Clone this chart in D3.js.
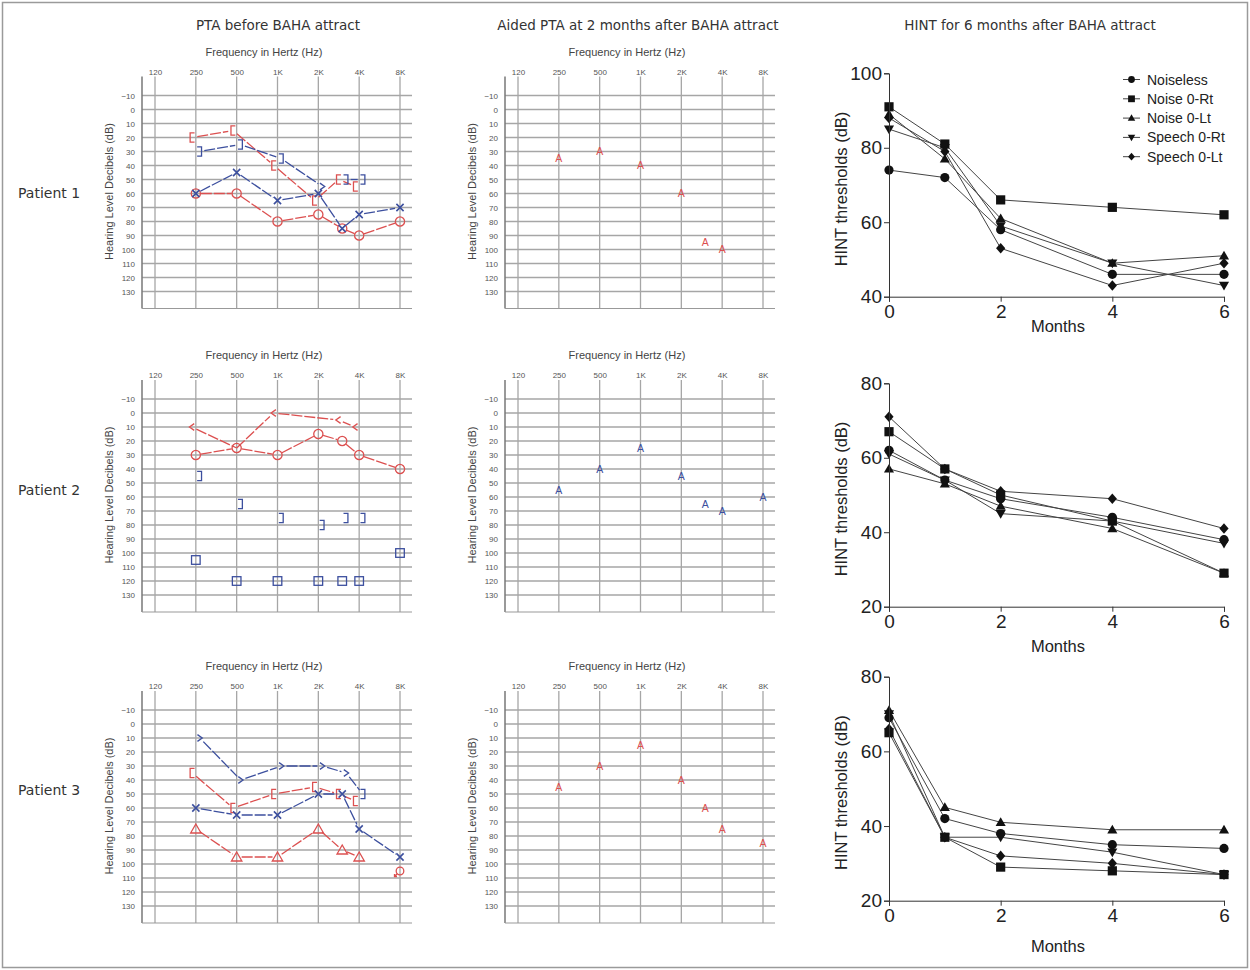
<!DOCTYPE html>
<html><head><meta charset="utf-8">
<script src="https://cdn.jsdelivr.net/npm/d3@7"></script>
<style>body{margin:0;background:#fff}</style>
</head><body>
<script>
// ================= DATA =================
const panelTitles = ["PTA before BAHA attract", "Aided PTA at 2 months after BAHA attract", "HINT for 6 months after BAHA attract"];
const patientLabels = ["Patient 1", "Patient 2", "Patient 3"];
const freqTickLabels = ["120", "250", "500", "1K", "2K", "4K", "8K"];
const freqTickValues = [125, 250, 500, 1000, 2000, 4000, 8000];
const testFreqs = [250, 500, 1000, 2000, 3000, 4000, 8000];
const dbTicks = [-10, 0, 10, 20, 30, 40, 50, 60, 70, 80, 90, 100, 110, 120, 130];

// Patient 1 – PTA before
const p1RightAC = [60, 60, 80, 75, 85, 90, 80];           // red O
const p1LeftAC = [60, 45, 65, 60, 85, 75, 70];            // blue X
const p1RightBCMasked = [20, 15, 40, 65, 50, 55, null];   // red [
const p1LeftBC = [30, 25, 35, 55, 50, 50, null];          // blue ] / >
const p1LeftBCSymbols = ["]", "]", "]", ">", "]", "]", null];
// Patient 1 – aided
const p1Aided = [35, 30, 40, 60, 95, 100, null];

// Patient 2 – PTA before
const p2RightAC = [30, 25, 30, 15, 20, 30, 40];           // red O
const p2RightBC = [10, 25, 0, null, 5, 10, null];         // red <
const p2RightBCSymbols = ["<", "", "<", null, "<", "<", null];
const p2LeftBCMasked = [45, 65, 75, 80, 75, 75, null];    // blue ]
const p2LeftNoResponse = [105, 120, 120, 120, 120, 120, 100]; // blue squares
// Patient 2 – aided
const p2Aided = [55, 40, 25, 45, 65, 70, 60];

// Patient 3 – PTA before
const p3LeftBC = [10, 40, 30, 30, 35, 50, null];          // blue > / ]
const p3LeftBCSymbols = [">", ">", ">", ">", ">", "]", null];
const p3RightBCMasked = [35, 60, 50, 45, 50, 55, null];   // red [
const p3LeftAC = [60, 65, 65, 50, 50, 75, 95];            // blue X
const p3RightACMasked = [75, 95, 95, 75, 90, 95, 105];    // red triangle
const p3RightACSymbols = ["tri", "tri", "tri", "tri", "tri", "tri", "nr"];
// Patient 3 – aided
const p3Aided = [45, 30, 15, 40, 60, 75, 85];

// HINT
const months = [0, 1, 2, 4, 6];
const hintSeriesNames = ["Noiseless", "Noise 0-Rt", "Noise 0-Lt", "Speech 0-Rt", "Speech 0-Lt"];
const hintShapes = ["circle", "square", "triangle", "triangleDown", "diamond"];
const p1Noiseless = [74, 72, 58, 46, 46];
const p1NoiseRt = [91, 81, 66, 64, 62];
const p1NoiseLt = [89, 77, 61, 49, 51];
const p1SpeechRt = [85, 80, 59, 49, 43];
const p1SpeechLt = [88, 79, 53, 43, 49];
const p2Noiseless = [62, 54, 49, 44, 38];
const p2NoiseRt = [67, 57, 50, 43, 29];
const p2NoiseLt = [57, 53, 47, 41, 29];
const p2SpeechRt = [61, 54, 45, 43, 37];
const p2SpeechLt = [71, 57, 51, 49, 41];
const p3Noiseless = [69, 42, 38, 35, 34];
const p3NoiseRt = [65, 37, 29, 28, 27];
const p3NoiseLt = [71, 45, 41, 39, 39];
const p3SpeechRt = [70, 37, 37, 33, 27];
const p3SpeechLt = [66, 37, 32, 30, 27];
const hintYDomains = [[40, 100], [20, 80], [20, 80]];
const hintYTicks = [[40, 60, 80, 100], [20, 40, 60, 80], [20, 40, 60, 80]];
const hintXTicks = [0, 2, 4, 6];

// ================= DRAW =================
const RED = "#dc5050", BLUE = "#3c4f9e";
const W = 1250, H = 970;
const svg = d3.select("body").append("svg").attr("width", W).attr("height", H);
svg.append("rect").attr("x", 2.5).attr("y", 2.5).attr("width", W - 5).attr("height", H - 5)
  .attr("fill", "#fff").attr("stroke", "#9a9a9a").attr("stroke-width", 1.5);

const titleFont = "'DejaVu Sans', sans-serif";
const armFont = "'Liberation Sans', Arial, sans-serif";

// column titles
const titleX = [278, 638, 1030];
panelTitles.forEach((t, i) => {
  svg.append("text").attr("x", titleX[i]).attr("y", 30).attr("text-anchor", "middle")
    .attr("font-family", titleFont).attr("font-size", 13.5).attr("fill", "#333").text(t);
});
const patientY = [193, 490, 790];
patientLabels.forEach((t, i) => {
  svg.append("text").attr("x", 18).attr("y", patientY[i] + 5)
    .attr("font-family", titleFont).attr("font-size", 14).attr("fill", "#333").text(t);
});

const symOffset = { "[": -3.5, "]": 3.5, "<": -4, ">": 4 };
function drawSymbol(g, sym, x, y, color) {
  if (!sym) return;
  const s = g.append("g").attr("transform", `translate(${x},${y})`);
  const st = (p) => p.attr("fill", "none").attr("stroke", color).attr("stroke-width", 1.3);
  switch (sym) {
    case "O": st(s.append("circle").attr("r", 4.6)); break;
    case "X": st(s.append("path").attr("d", "M-3.6,-3.6L3.6,3.6M3.6,-3.6L-3.6,3.6")).attr("stroke-width", 1.6); break;
    case "[": st(s.append("path").attr("d", "M2.2,-4.6H-2.2V4.6H2.2")); break;
    case "]": st(s.append("path").attr("d", "M-2.2,-4.6H2.2V4.6H-2.2")); break;
    case "<": st(s.append("path").attr("d", "M2.4,-3.4L-2.4,0L2.4,3.4")); break;
    case ">": st(s.append("path").attr("d", "M-2.4,-3.4L2.4,0L-2.4,3.4")); break;
    case "sq": st(s.append("rect").attr("x", -4.3).attr("y", -4.3).attr("width", 8.6).attr("height", 8.6)); break;
    case "tri": st(s.append("path").attr("d", "M0,-5L5.2,4L-5.2,4Z")); break;
    case "nr": st(s.append("circle").attr("r", 3.8)); st(s.append("path").attr("d", "M-2.8,2.8L-5.5,5.5M-5.5,3L-5.5,5.5L-3,5.5")); break;
    case "A": s.append("text").attr("text-anchor", "middle").attr("y", 3.6)
      .attr("font-family", armFont).attr("font-size", 10.5).attr("fill", color).text("A"); break;
  }
}

function drawAudiogram(x0, y0, series) {
  const g = svg.append("g");
  const fx = d3.scaleLog().base(2).domain([125, 8000]).range([x0 + 13, x0 + 258]);
  const dy = d3.scaleLinear().domain([-10, 130]).range([y0, y0 + 196]);
  const top = y0 - 19, bottom = y0 + 213, right = x0 + 270;
  // grid
  g.selectAll(".hg").data(dbTicks).join("line")
    .attr("x1", x0).attr("x2", right).attr("y1", d => dy(d)).attr("y2", d => dy(d))
    .attr("stroke", "#a6a6a6").attr("stroke-width", 1.3);
  g.selectAll(".vg").data(freqTickValues).join("line")
    .attr("x1", d => fx(d)).attr("x2", d => fx(d)).attr("y1", top).attr("y2", bottom)
    .attr("stroke", "#a6a6a6").attr("stroke-width", 1.3);
  g.append("line").attr("x1", x0).attr("x2", x0).attr("y1", top).attr("y2", bottom).attr("stroke", "#777").attr("stroke-width", 1.5);
  g.append("line").attr("x1", x0).attr("x2", right).attr("y1", bottom).attr("y2", bottom).attr("stroke", "#999").attr("stroke-width", 1.2);
  // axes labels
  const ya = g.append("g").attr("transform", `translate(${x0 - 7},0)`)
    .call(d3.axisLeft(dy).tickValues(dbTicks).tickSize(0).tickPadding(0));
  ya.select(".domain").remove();
  ya.selectAll("text").attr("font-family", armFont).attr("font-size", 8).attr("fill", "#555");
  const xa = g.append("g").attr("transform", `translate(0,${y0 - 21})`)
    .call(d3.axisTop(fx).tickValues(freqTickValues).tickFormat((d, i) => freqTickLabels[i]).tickSize(0).tickPadding(0));
  xa.select(".domain").remove();
  xa.selectAll("text").attr("font-family", armFont).attr("font-size", 8).attr("fill", "#555");
  g.append("text").attr("x", x0 + 122).attr("y", y0 - 40).attr("text-anchor", "middle")
    .attr("font-family", armFont).attr("font-size", 11).attr("fill", "#444").text("Frequency in Hertz (Hz)");
  g.append("text").attr("transform", `translate(${x0 - 29},${y0 + 96}) rotate(-90)`).attr("text-anchor", "middle")
    .attr("font-family", armFont).attr("font-size", 11).attr("fill", "#444").text("Hearing Level Decibels (dB)");
  // series
  series.forEach(s => {
    const pts = [];
    s.values.forEach((v, i) => {
      if (v == null) return;
      const sym = Array.isArray(s.symbol) ? s.symbol[i] : s.symbol;
      pts.push({ i, sym, x: fx(testFreqs[i]) + (symOffset[sym] || 0), y: dy(v) });
    });
    if (s.connect) {
      for (let k = 0; k < pts.length - 1; k++) {
        const a = pts[k], b = pts[k + 1];
        if ((s.breaks || []).includes(a.i)) continue;
        const dx = b.x - a.x, dyv = b.y - a.y, L = Math.hypot(dx, dyv);
        const ga = a.sym ? 5 : 0, gb = b.sym ? 5 : 0;
        if (L <= ga + gb) continue;
        g.append("line")
          .attr("x1", a.x + dx * ga / L).attr("y1", a.y + dyv * ga / L)
          .attr("x2", b.x - dx * gb / L).attr("y2", b.y - dyv * gb / L)
          .attr("stroke", s.color).attr("stroke-width", 1.3).attr("stroke-dasharray", "11,2");
      }
    }
    pts.forEach(p => drawSymbol(g, p.sym, p.x, p.y, s.color));
  });
}

const audRowY = [95.5, 399, 710];
const leftX = 142, midX = 505;
drawAudiogram(leftX, audRowY[0], [
  { values: p1RightBCMasked, symbol: "[", color: RED, connect: true },
  { values: p1LeftBC, symbol: p1LeftBCSymbols, color: BLUE, connect: true, breaks: [3] },
  { values: p1RightAC, symbol: "O", color: RED, connect: true },
  { values: p1LeftAC, symbol: "X", color: BLUE, connect: true },
]);
drawAudiogram(midX, audRowY[0], [{ values: p1Aided, symbol: "A", color: RED, connect: false }]);
drawAudiogram(leftX, audRowY[1], [
  { values: p2RightBC, symbol: p2RightBCSymbols, color: RED, connect: true },
  { values: p2RightAC, symbol: "O", color: RED, connect: true },
  { values: p2LeftBCMasked, symbol: "]", color: BLUE, connect: false },
  { values: p2LeftNoResponse, symbol: "sq", color: BLUE, connect: false },
]);
drawAudiogram(midX, audRowY[1], [{ values: p2Aided, symbol: "A", color: BLUE, connect: false }]);
drawAudiogram(leftX, audRowY[2], [
  { values: p3LeftBC, symbol: p3LeftBCSymbols, color: BLUE, connect: true },
  { values: p3RightBCMasked, symbol: "[", color: RED, connect: true },
  { values: p3LeftAC, symbol: "X", color: BLUE, connect: true },
  { values: p3RightACMasked, symbol: p3RightACSymbols, color: RED, connect: true, breaks: [5] },
]);
drawAudiogram(midX, audRowY[2], [{ values: p3Aided, symbol: "A", color: RED, connect: false }]);

// ---------- HINT ----------
function markerPath(shape, r) {
  switch (shape) {
    case "circle": return d3.symbol(d3.symbolCircle, Math.PI * r * r)();
    case "square": return `M${-r},${-r}H${r}V${r}H${-r}Z`;
    case "triangle": return `M0,${-r * 1.1}L${r * 1.1},${r * 0.8}L${-r * 1.1},${r * 0.8}Z`;
    case "triangleDown": return `M0,${r * 1.1}L${r * 1.1},${-r * 0.8}L${-r * 1.1},${-r * 0.8}Z`;
    case "diamond": return `M0,${-r * 1.15}L${r},0L0,${r * 1.15}L${-r},0Z`;
  }
}
const hintRowRanges = [[296.7, 73.3], [606.7, 383.3], [900.7, 676.7]];
const hintData = [
  [p1Noiseless, p1NoiseRt, p1NoiseLt, p1SpeechRt, p1SpeechLt],
  [p2Noiseless, p2NoiseRt, p2NoiseLt, p2SpeechRt, p2SpeechLt],
  [p3Noiseless, p3NoiseRt, p3NoiseLt, p3SpeechRt, p3SpeechLt],
];
const monthsLabelY = [332, 652, 952];
hintData.forEach((rows, r) => {
  const g = svg.append("g");
  const x = d3.scaleLinear().domain([0, 6]).range([889, 1224]);
  const y = d3.scaleLinear().domain(hintYDomains[r]).range(hintRowRanges[r]);
  const line = d3.line().x((d, i) => x(months[i])).y(d => y(d));
  rows.forEach(vals => {
    g.append("path").attr("d", line(vals)).attr("fill", "none").attr("stroke", "#444").attr("stroke-width", 1);
  });
  rows.forEach((vals, s) => {
    vals.forEach((v, i) => {
      g.append("path").attr("d", markerPath(hintShapes[s], 4.6))
        .attr("transform", `translate(${x(months[i])},${y(v)})`).attr("fill", "#111");
    });
  });
  const ya = g.append("g").attr("transform", "translate(889,0)")
    .call(d3.axisLeft(y).tickValues(hintYTicks[r]).tickFormat(d3.format("d")).tickSize(5).tickPadding(2));
  const xa = g.append("g").attr("transform", `translate(0,${hintRowRanges[r][0]})`)
    .call(d3.axisBottom(x).tickValues(hintXTicks).tickFormat(d3.format("d")).tickSize(5).tickPadding(3));
  [ya, xa].forEach(a => {
    a.selectAll("path,line").attr("stroke", "#333").attr("stroke-width", 1);
    a.selectAll("text").attr("font-family", armFont).attr("font-size", 19).attr("fill", "#222");
  });
  const mid = (hintRowRanges[r][0] + hintRowRanges[r][1]) / 2;
  g.append("text").attr("transform", `translate(847,${mid + 4}) rotate(-90)`).attr("text-anchor", "middle")
    .attr("font-family", armFont).attr("font-size", 16.5).attr("fill", "#222").text("HINT thresholds (dB)");
  g.append("text").attr("x", 1058).attr("y", monthsLabelY[r]).attr("text-anchor", "middle")
    .attr("font-family", armFont).attr("font-size", 16.5).attr("fill", "#222").text("Months");
  if (r === 0) {
    const lg = g.append("g");
    hintSeriesNames.forEach((n, s) => {
      const ly = 79.5 + s * 19.3;
      lg.append("line").attr("x1", 1123).attr("x2", 1140).attr("y1", ly).attr("y2", ly).attr("stroke", "#444");
      lg.append("path").attr("d", markerPath(hintShapes[s], 3.4)).attr("transform", `translate(1131.5,${ly})`).attr("fill", "#111");
      lg.append("text").attr("x", 1147).attr("y", ly + 5).attr("font-family", armFont).attr("font-size", 14).attr("fill", "#222").text(n);
    });
  }
});
</script>
</body></html>
